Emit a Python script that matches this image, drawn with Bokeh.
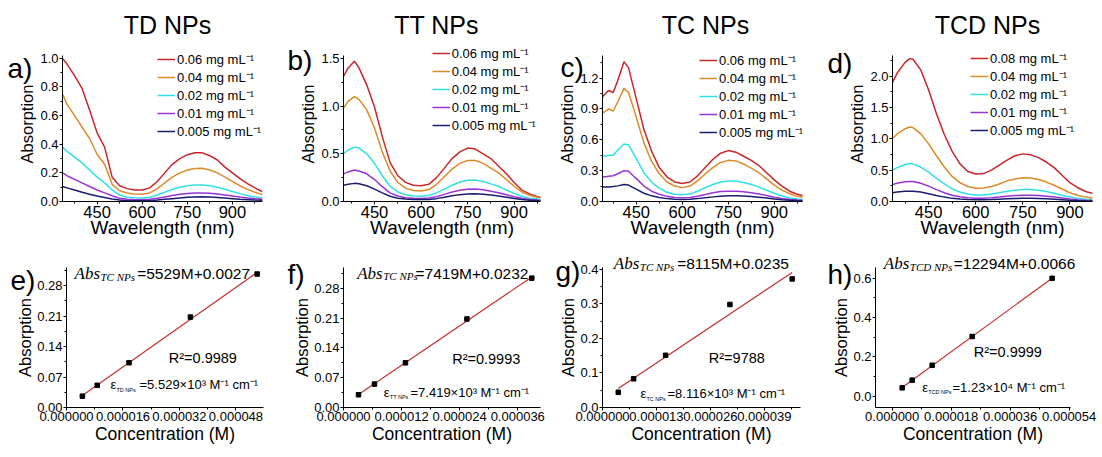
import numpy as np
from bokeh.plotting import figure
from bokeh.layouts import row, column
from bokeh.models import Range1d, FixedTicker, PrintfTickFormatter, Label, Legend, LegendItem
from bokeh.embed import file_html
from bokeh.resources import INLINE

SANS = "Liberation Sans"
SERIF = "Liberation Serif"

# ---------------- data: UV-vis spectra ----------------
panel_titles = ["TD NPs", "TT NPs", "TC NPs", "TCD NPs"]
series_labels = ["0.06 mg mL⁻¹", "0.04 mg mL⁻¹", "0.02 mg mL⁻¹", "0.01 mg mL⁻¹", "0.005 mg mL⁻¹"]
series_labels_tcd = ["0.08 mg mL⁻¹", "0.04 mg mL⁻¹", "0.02 mg mL⁻¹", "0.01 mg mL⁻¹", "0.005 mg mL⁻¹"]
series_colors = ["#C8262B", "#DB8B2A", "#2FE0E4", "#9A32D6", "#1C1C6E"]

wl_td = [335, 350, 375, 400, 425, 450, 475, 500, 525, 550, 575, 600, 625, 650,
         675, 700, 725, 750, 775, 800, 825, 850, 875, 900, 925, 950, 975, 1000]
td_006 = [1.00, 0.96, 0.88, 0.79, 0.64, 0.48, 0.38, 0.17, 0.11, 0.09, 0.08, 0.08, 0.095, 0.14,
          0.20, 0.26, 0.30, 0.327, 0.34, 0.34, 0.32, 0.29, 0.24, 0.20, 0.16, 0.125, 0.095, 0.068]
td_004 = [0.75, 0.68, 0.60, 0.52, 0.44, 0.33, 0.26, 0.12, 0.075, 0.06, 0.052, 0.05, 0.06, 0.09,
          0.13, 0.17, 0.20, 0.22, 0.23, 0.232, 0.22, 0.20, 0.17, 0.14, 0.11, 0.085, 0.065, 0.048]
td_002 = [0.38, 0.35, 0.31, 0.27, 0.22, 0.17, 0.13, 0.08, 0.045, 0.03, 0.027, 0.025, 0.03, 0.045,
          0.065, 0.085, 0.10, 0.11, 0.115, 0.115, 0.11, 0.10, 0.085, 0.07, 0.055, 0.042, 0.032, 0.025]
td_001 = [0.20, 0.18, 0.155, 0.13, 0.105, 0.08, 0.06, 0.04, 0.022, 0.015, 0.012, 0.012, 0.015, 0.022,
          0.032, 0.042, 0.05, 0.056, 0.06, 0.06, 0.057, 0.052, 0.045, 0.038, 0.031, 0.025, 0.02, 0.016]
td_0005 = [0.105, 0.095, 0.08, 0.065, 0.05, 0.038, 0.028, 0.018, 0.01, 0.006, 0.005, 0.005, 0.006, 0.01,
           0.015, 0.02, 0.025, 0.029, 0.032, 0.033, 0.031, 0.028, 0.024, 0.02, 0.016, 0.013, 0.01, 0.008]

wl_tt = [350, 365, 385, 400, 425, 450, 475, 500, 525, 550, 575, 600, 625, 650,
         675, 700, 725, 750, 775, 800, 825, 850, 875, 900, 925, 950, 975, 1000]
tt_006 = [1.31, 1.40, 1.47, 1.40, 1.22, 0.99, 0.68, 0.41, 0.27, 0.20, 0.17, 0.165, 0.18, 0.25,
          0.35, 0.45, 0.52, 0.56, 0.55, 0.50, 0.45, 0.37, 0.29, 0.20, 0.12, 0.08, 0.05, 0.04]
tt_004 = [0.98, 1.05, 1.10, 1.07, 0.96, 0.77, 0.52, 0.32, 0.20, 0.14, 0.115, 0.11, 0.125, 0.18,
          0.26, 0.34, 0.40, 0.43, 0.43, 0.40, 0.35, 0.30, 0.23, 0.16, 0.10, 0.065, 0.045, 0.035]
tt_002 = [0.50, 0.54, 0.57, 0.56, 0.50, 0.40, 0.27, 0.16, 0.10, 0.07, 0.058, 0.055, 0.062, 0.09,
          0.13, 0.17, 0.205, 0.222, 0.225, 0.21, 0.185, 0.16, 0.12, 0.085, 0.055, 0.035, 0.025, 0.02]
tt_001 = [0.29, 0.31, 0.33, 0.32, 0.29, 0.23, 0.155, 0.09, 0.057, 0.04, 0.033, 0.032, 0.036, 0.05,
          0.075, 0.10, 0.118, 0.128, 0.13, 0.122, 0.108, 0.092, 0.07, 0.05, 0.033, 0.022, 0.016, 0.012]
tt_0005 = [0.17, 0.18, 0.19, 0.185, 0.165, 0.13, 0.09, 0.055, 0.035, 0.025, 0.02, 0.02, 0.022, 0.03,
           0.045, 0.06, 0.072, 0.078, 0.08, 0.076, 0.068, 0.058, 0.045, 0.032, 0.021, 0.014, 0.01, 0.008]

wl_tc = [340, 350, 360, 375, 390, 410, 425, 440, 450, 475, 500, 525, 550, 575, 600, 625,
         650, 675, 700, 725, 750, 775, 800, 825, 850, 875, 900, 925, 950, 975, 1000]
tc_006 = [1.02, 1.05, 1.08, 1.06, 1.18, 1.36, 1.30, 1.12, 1.00, 0.70, 0.49, 0.33, 0.24, 0.19, 0.175, 0.19,
          0.25, 0.33, 0.41, 0.47, 0.495, 0.48, 0.44, 0.40, 0.35, 0.28, 0.21, 0.15, 0.10, 0.07, 0.055]
tc_004 = [0.86, 0.88, 0.90, 0.88, 0.97, 1.10, 1.06, 0.92, 0.82, 0.57, 0.39, 0.27, 0.19, 0.15, 0.135, 0.15,
          0.20, 0.27, 0.33, 0.38, 0.40, 0.395, 0.365, 0.325, 0.28, 0.22, 0.16, 0.11, 0.075, 0.05, 0.04]
tc_002 = [0.44, 0.445, 0.45, 0.45, 0.50, 0.56, 0.55, 0.47, 0.42, 0.28, 0.19, 0.13, 0.09, 0.07, 0.065, 0.072,
          0.10, 0.135, 0.165, 0.19, 0.20, 0.20, 0.185, 0.165, 0.14, 0.11, 0.08, 0.055, 0.035, 0.025, 0.02]
tc_001 = [0.24, 0.24, 0.245, 0.25, 0.27, 0.30, 0.295, 0.25, 0.225, 0.15, 0.10, 0.07, 0.05, 0.04, 0.037, 0.04,
          0.052, 0.068, 0.085, 0.097, 0.10, 0.10, 0.095, 0.085, 0.073, 0.058, 0.042, 0.03, 0.02, 0.014, 0.01]
tc_0005 = [0.14, 0.14, 0.142, 0.145, 0.152, 0.165, 0.16, 0.135, 0.12, 0.08, 0.055, 0.038, 0.028, 0.022, 0.02, 0.022,
           0.028, 0.036, 0.045, 0.052, 0.055, 0.056, 0.053, 0.048, 0.042, 0.034, 0.025, 0.018, 0.012, 0.009, 0.007]

wl_tcd = [335, 350, 375, 390, 400, 425, 450, 475, 500, 525, 550, 575, 600, 625, 650,
          675, 700, 725, 750, 775, 800, 825, 850, 875, 900, 925, 950, 975, 1000]
tcd_008 = [1.90, 2.05, 2.22, 2.28, 2.27, 2.10, 1.78, 1.40, 1.07, 0.80, 0.60, 0.48, 0.44, 0.445, 0.50,
           0.58, 0.66, 0.73, 0.76, 0.745, 0.70, 0.63, 0.54, 0.42, 0.30, 0.22, 0.16, 0.125, 0.10]
tcd_004 = [1.00, 1.08, 1.16, 1.19, 1.18, 1.08, 0.92, 0.73, 0.55, 0.40, 0.30, 0.24, 0.21, 0.215, 0.24,
           0.28, 0.33, 0.36, 0.38, 0.375, 0.35, 0.31, 0.26, 0.20, 0.14, 0.10, 0.07, 0.05, 0.04]
tcd_002 = [0.50, 0.54, 0.59, 0.605, 0.60, 0.55, 0.47, 0.37, 0.28, 0.20, 0.15, 0.12, 0.105, 0.105, 0.12,
           0.14, 0.165, 0.18, 0.19, 0.19, 0.18, 0.16, 0.13, 0.10, 0.07, 0.05, 0.035, 0.025, 0.02]
tcd_001 = [0.27, 0.29, 0.315, 0.32, 0.318, 0.29, 0.245, 0.19, 0.14, 0.10, 0.075, 0.06, 0.053, 0.053, 0.06,
           0.072, 0.085, 0.095, 0.10, 0.10, 0.095, 0.085, 0.07, 0.055, 0.04, 0.028, 0.02, 0.014, 0.01]
tcd_0005 = [0.14, 0.15, 0.162, 0.165, 0.163, 0.15, 0.125, 0.097, 0.07, 0.05, 0.038, 0.03, 0.027, 0.027, 0.03,
            0.036, 0.042, 0.047, 0.05, 0.05, 0.048, 0.043, 0.036, 0.028, 0.02, 0.014, 0.01, 0.007, 0.005]

# ---------------- data: calibration (Absorption vs concentration) ----------------
conc_td = [4.5e-6, 8.7e-6, 17.7e-6, 35.1e-6, 54.0e-6]
abs_td = [0.026, 0.051, 0.103, 0.208, 0.307]
conc_tt = [3.1e-6, 6.4e-6, 12.8e-6, 25.5e-6, 38.9e-6]
abs_tt = [0.030, 0.055, 0.105, 0.208, 0.304]
conc_tc = [3.8e-6, 7.5e-6, 15.2e-6, 30.7e-6, 45.7e-6]
abs_tc = [0.044, 0.083, 0.151, 0.298, 0.372]
conc_tcd = [3.05e-6, 6.1e-6, 12.2e-6, 24.4e-6, 48.8e-6]
abs_tcd = [0.043, 0.082, 0.158, 0.304, 0.600]

eq_subs = ["TC NPs", "TC NPs", "TC NPs", "TCD NPs"]
eq_texts = ["=5529M+0.0027", "=7419M+0.0232", "=8115M+0.0235", "=12294M+0.0066"]
r2_texts = ["R²=0.9989", "R²=0.9993", "R²=9788", "R²=0.9999"]
eps_subs = ["TD NPs", "TT NPs", "TC NPs", "TCD NPs"]
eps_texts = ["=5.529×10³ M⁻¹ cm⁻¹", "=7.419×10³ M⁻¹ cm⁻¹", "=8.116×10³ M⁻¹ cm⁻¹", "=1.23×10⁴ M⁻¹ cm⁻¹"]
top_letters = ["a)", "b)", "c)", "d)"]
bot_letters = ["e)", "f)", "g)", "h)"]

# tick values
top_yticks = [[0, 0.2, 0.4, 0.6, 0.8, 1.0], [0, 0.5, 1.0, 1.5], [0, 0.3, 0.6, 0.9, 1.2], [0, 0.5, 1.0, 1.5, 2.0]]
top_yminor = [[0.1, 0.3, 0.5, 0.7, 0.9], [0.25, 0.75, 1.25], [0.15, 0.45, 0.75, 1.05, 1.35], [0.25, 0.75, 1.25, 1.75, 2.25]]
wl_ticks = [450, 600, 750, 900]
wl_minor = [375, 525, 675, 825, 975]
bot_xticks = [[0, 16e-6, 32e-6, 48e-6], [0, 12e-6, 24e-6, 36e-6], [0, 13e-6, 26e-6, 39e-6], [0, 18e-6, 36e-6, 54e-6]]
bot_xminor = [[8e-6, 24e-6, 40e-6, 56e-6], [6e-6, 18e-6, 30e-6], [6.5e-6, 19.5e-6, 32.5e-6, 45.5e-6], [9e-6, 27e-6, 45e-6]]
bot_yticks = [[0, 0.07, 0.14, 0.21, 0.28], [0, 0.07, 0.14, 0.21, 0.28], [0, 0.1, 0.2, 0.3, 0.4], [0, 0.2, 0.4, 0.6]]
bot_yminor = [[0.035, 0.105, 0.175, 0.245, 0.315], [0.035, 0.105, 0.175, 0.245, 0.315], [0.05, 0.15, 0.25, 0.35], [0.1, 0.3, 0.5]]
bot_yfmt = ["%.2f", "%.2f", "%.1f", "%.1f"]

top_xr = [(335, 1000), (350, 985), (340, 992), (335, 972)]
top_yr = [(0, 1.02), (0, 1.53), (0, 1.42), (0, 2.33)]
bot_xr = [(0, 5.58e-5), (0, 4.07e-5), (0, 4.77e-5), (-5.1e-6, 5.44e-5)]
bot_yr = [(0, 0.322), (0, 0.329), (0, 0.405), (-0.057, 0.655)]

spectra = [
    (wl_td, [td_006, td_004, td_002, td_001, td_0005], series_labels),
    (wl_tt, [tt_006, tt_004, tt_002, tt_001, tt_0005], series_labels),
    (wl_tc, [tc_006, tc_004, tc_002, tc_001, tc_0005], series_labels),
    (wl_tcd, [tcd_008, tcd_004, tcd_002, tcd_001, tcd_0005], series_labels_tcd),
]
calib = [(conc_td, abs_td), (conc_tt, abs_tt), (conc_tc, abs_tc), (conc_tcd, abs_tcd)]

# ---------------- layout geometry (page pixels) ----------------
W, H = 1102, 457
COL_X = [0, 284, 548, 825]
TOP_H, BOT_H = 248, 209
TOP_GEO = [(284, 62, 22), (264, 59, 8), (277, 54, 23), (277, 67, 10)]
AXIS_TOP = 55            # where the visible y axis of the spectra panels ends
TOP_BT, TOP_BB = 46, 47  # frame reaches a bit higher so the legends are not clipped
BOT_GEO = [(284, 66, 21, 14, 50), (264, 59, 8, 15, 47), (277, 54, 25, 19, 43), (277, 50, 32, 15, 44)]

title_pos = [(167, 24), (436, 24), (705, 24), (987, 24)]
top_letter_pos = [(7, 67.5), (287, 60), (560, 66.5), (827, 62.5)]
bot_letter_pos = [(10, 280), (287, 273.5), (555, 270.5), (827, 273.5)]
legend_pos = [(157, 95.0), (431.7, 89.3), (699, 95.7), (970, 93.7)]   # glyph left x, centre y of block
abs_pos = [(74, 273, 136.7), (356.7, 272.7, 415), (613.3, 263.3, 676.7), (883.3, 263.3, 953.3)]
r2_pos = [(168.3, 357.3), (451.7, 358.3), (708.3, 357.7), (973.3, 351.7)]
eps_pos = [(110, 384, 139), (383.3, 391.7, 410), (640, 393.3, 667), (921.7, 386.7, 952)]


def style_axes(p):
    p.outline_line_color = None
    p.grid.visible = False
    p.background_fill_color = "white"
    p.border_fill_color = "white"
    for ax in (p.xaxis[0], p.yaxis[0]):
        ax.axis_line_color = "black"
        ax.axis_line_width = 1
        ax.major_tick_line_color = "black"
        ax.minor_tick_line_color = "black"
        ax.major_tick_out = 3
        ax.major_tick_in = 0
        ax.minor_tick_out = 2
        ax.minor_tick_in = 0
        ax.major_label_standoff = 1
        ax.major_label_text_font = SANS
        ax.major_label_text_font_size = "13px"
        ax.major_label_text_color = "black"
        ax.axis_label_text_font = SANS
        ax.axis_label_text_font_style = "normal"
        ax.axis_label_text_color = "black"


top_figs = []
frame_bottom = TOP_H - TOP_BB
for i in range(4):
    w, bl, br = TOP_GEO[i]
    y_end = top_yr[i][1] * (frame_bottom - TOP_BT) / (frame_bottom - AXIS_TOP)
    p = figure(width=w, height=TOP_H, x_range=Range1d(*top_xr[i]), y_range=Range1d(0, y_end),
               output_backend="svg", toolbar_location=None, title=None,
               min_border_left=bl, min_border_right=br, min_border_top=TOP_BT, min_border_bottom=TOP_BB)
    style_axes(p)
    p.yaxis.bounds = top_yr[i]
    p.xaxis.ticker = FixedTicker(ticks=wl_ticks, minor_ticks=wl_minor)
    p.yaxis.ticker = FixedTicker(ticks=top_yticks[i], minor_ticks=top_yminor[i])
    p.yaxis.formatter = PrintfTickFormatter(format="%.1f")
    p.xaxis.major_label_text_font_size = "16.5px"
    p.xaxis.axis_label = "Wavelength (nm)"
    p.yaxis.axis_label = "Absorption"
    p.xaxis.axis_label_text_font_size = "19px"
    p.yaxis.axis_label_text_font_size = "16.5px"
    p.xaxis.axis_label_standoff = -4
    p.yaxis.axis_label_standoff = 1
    wl, ys, labels = spectra[i]
    items = []
    for y, c, lab in zip(ys, series_colors, labels):
        r = p.line(wl, y, line_color=c, line_width=1.5)
        items.append(LegendItem(label=lab, renderers=[r]))
    gx, gc = legend_pos[i]
    block = 18 * len(items)
    lg = Legend(items=items, location=(gx - (COL_X[i] + bl), frame_bottom - (gc + block / 2.0)),
                glyph_width=18, glyph_height=14, label_height=14, label_standoff=2,
                spacing=0, padding=0, margin=0, border_line_color=None,
                background_fill_alpha=0, label_text_font=SANS, label_text_font_size="13px",
                label_text_color="black")
    p.add_layout(lg)
    top_figs.append(p)

bot_figs = []
for i in range(4):
    w, bl, br, bt, bb = BOT_GEO[i]
    p = figure(width=w, height=BOT_H, x_range=Range1d(*bot_xr[i]), y_range=Range1d(*bot_yr[i]),
               output_backend="svg", toolbar_location=None, title=None,
               min_border_left=bl, min_border_right=br, min_border_top=bt, min_border_bottom=bb)
    style_axes(p)
    p.xaxis.ticker = FixedTicker(ticks=bot_xticks[i], minor_ticks=bot_xminor[i])
    p.yaxis.ticker = FixedTicker(ticks=bot_yticks[i], minor_ticks=bot_yminor[i])
    p.xaxis.formatter = PrintfTickFormatter(format="%.6f")
    p.yaxis.formatter = PrintfTickFormatter(format=bot_yfmt[i])
    p.xaxis.axis_label = "Concentration (M)"
    p.yaxis.axis_label = "Absorption"
    p.xaxis.axis_label_text_font_size = "17.5px"
    p.yaxis.axis_label_text_font_size = "16.5px"
    p.xaxis.axis_label_standoff = 0
    p.yaxis.axis_label_standoff = 0
    cx, ay = calib[i]
    slope, icpt = np.polyfit(cx, ay, 1)
    xs = [min(cx), max(cx)]
    p.line(xs, [slope * v + icpt for v in xs], line_color="#C0312F", line_width=1.2)
    p.scatter(cx, ay, marker="square", size=4.5, color="black")
    bot_figs.append(p)

# ---------------- transparent overlay carrying the free texts ----------------
ov = figure(width=W, height=H, x_range=Range1d(0, W), y_range=Range1d(0, H),
            output_backend="svg", toolbar_location=None, title=None,
            x_axis_location=None, y_axis_location=None, min_border=0)
ov.outline_line_color = None
ov.background_fill_color = None
ov.border_fill_color = None
ov.grid.visible = False
ov.margin = (-H, 0, 0, 0)


def txt(x, y, text, size, font=SANS, style="normal", baseline="middle", align="left"):
    ov.add_layout(Label(x=x, y=H - y, x_units="screen", y_units="screen", text=text,
                        text_font=font, text_font_size=size, text_font_style=style,
                        text_color="black", text_baseline=baseline, text_align=align))


for i in range(4):
    tx, ty = title_pos[i]
    txt(tx, ty, panel_titles[i], "25px", align="center")
    lx, ly = top_letter_pos[i]
    txt(lx, ly, top_letters[i], "28px")
    lx, ly = bot_letter_pos[i]
    txt(lx, ly, bot_letters[i], "28px")

    axr, ayr, erx = abs_pos[i]
    txt(axr, ayr, "Abs", "17px", font=SERIF, style="italic", baseline="alphabetic")
    txt(axr + 26, ayr + 3, eq_subs[i], "11px", font=SERIF, style="italic", baseline="alphabetic")
    txt(erx, ayr, eq_texts[i], "15.5px", baseline="alphabetic")
    rx, ry = r2_pos[i]
    txt(rx, ry, r2_texts[i], "14.5px")
    ex, ey, erx2 = eps_pos[i]
    txt(ex, ey, "ε", "13px")
    txt(ex + 6, ey + 5, eps_subs[i], "5.5px")
    txt(erx2, ey, eps_texts[i], "13px")

layout = column(row(*top_figs), row(*bot_figs), ov)
open("out.html", "w").write(file_html(layout, INLINE))
